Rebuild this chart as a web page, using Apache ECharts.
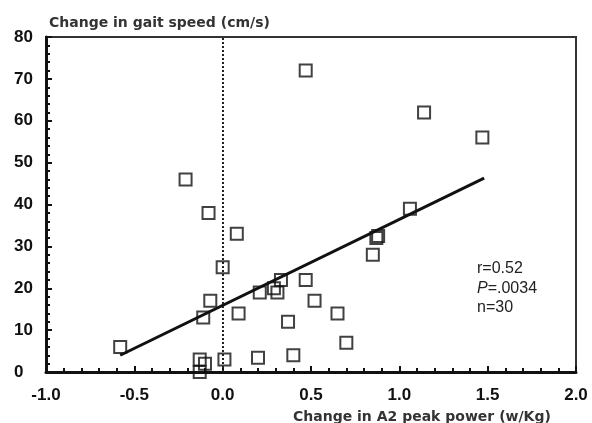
<!DOCTYPE html>
<html>
<head>
<meta charset="utf-8">
<script src="https://cdn.jsdelivr.net/npm/echarts@6/dist/echarts.min.js"></script>
<style>
  html, body { margin: 0; padding: 0; background: #fff; }
  #chart { width: 592px; height: 423px; }
</style>
</head>
<body>
<div id="chart"></div>
<script>
// change in A2 peak power (w/Kg)
var powerChange = [-0.58, -0.21, -0.08, 0.08, 0.0, -0.07, -0.11, 0.09, 0.21, 0.31, 0.33, 0.37,
  -0.13, -0.1, -0.13, 0.01, 0.2, 0.4, 0.47, 1.14, 1.47, 1.06, 0.87, 0.88, 0.85, 0.47, 0.52, 0.65, 0.7, 0.29];
// change in gait speed (cm/s)
var speedChange = [6, 46, 38, 33, 25, 17, 13, 14, 19, 19, 22, 12,
  3, 2, 0, 3, 3.4, 4, 72, 62, 56, 39, 32, 32.5, 28, 22, 17, 14, 7, 20];
// fitted regression line end points
var fitX = [-0.58, 1.48];
var fitY = [4, 46.3];
var statsText = ['r=0.52', 'P=.0034', 'n=30'];

var points = powerChange.map(function (x, i) { return [x, speedChange[i]]; });
var fitLine = fitX.map(function (x, i) { return [x, fitY[i]]; });

var chart = echarts.init(document.getElementById('chart'));
var tickFont = { fontFamily: 'Liberation Sans', fontWeight: 'bold', fontSize: 17, color: '#111' };

chart.setOption({
  animation: false,
  title: [
    {
      text: 'Change in gait speed (cm/s)', left: 44, top: 11,
      textStyle: { fontFamily: 'DejaVu Sans', fontWeight: 'bold', fontSize: 14, color: '#333' }
    },
    {
      text: 'Change in A2 peak power (w/Kg)', left: 288, top: 405,
      textStyle: { fontFamily: 'DejaVu Sans', fontWeight: 'bold', fontSize: 14, color: '#333' }
    }
  ],
  grid: { left: 46, right: 16, top: 37, bottom: 51, show: true, borderColor: '#333', borderWidth: 2 },
  xAxis: {
    type: 'value', min: -1, max: 2, interval: 0.5,
    axisLine: { onZero: false, lineStyle: { color: '#111', width: 3 } },
    axisTick: { inside: true, length: 6, lineStyle: { color: '#111', width: 2 } },
    minorTick: { show: true, splitNumber: 5, length: 4, lineStyle: { color: '#111', width: 2 } },
    axisLabel: Object.assign({ margin: 15, formatter: function (v) { return v.toFixed(1); } }, tickFont),
    splitLine: { show: false }
  },
  yAxis: {
    type: 'value', min: 0, max: 80, interval: 10,
    axisLine: { show: true, onZero: false, lineStyle: { color: '#111', width: 3 } },
    axisTick: { show: true, inside: true, length: 6, lineStyle: { color: '#111', width: 2 } },
    minorTick: { show: true, splitNumber: 5, length: 4, lineStyle: { color: '#111', width: 2 } },
    axisLabel: Object.assign({ margin: 32, align: 'left' }, tickFont),
    splitLine: { show: false }
  },
  graphic: [{
    type: 'text', left: 477, top: 261,
    style: {
      text: '{a|' + statsText[0] + '}\n{b|' + statsText[1].charAt(0) + '}{a|' + statsText[1].slice(1) + '}\n{a|' + statsText[2] + '}',
      rich: {
        a: { fontFamily: 'Liberation Sans', fontSize: 16, lineHeight: 19.5, fill: '#222' },
        b: { fontFamily: 'Liberation Sans', fontStyle: 'italic', fontSize: 16, lineHeight: 19.5, fill: '#222' }
      }
    }
  }],
  series: [
    {
      type: 'line', data: fitLine, symbol: 'none', z: 3,
      lineStyle: { color: '#111', width: 3 },
      markLine: {
        silent: true, symbol: 'none', label: { show: false },
        lineStyle: { color: '#222', type: [2, 2], width: 2 },
        data: [{ xAxis: 0 }]
      }
    },
    {
      type: 'scatter', data: points, symbol: 'rect', symbolSize: 12, z: 4,
      itemStyle: { color: 'rgba(255,255,255,0)', borderColor: '#111', borderWidth: 2 }
    }
  ]
});
</script>
</body>
</html>
